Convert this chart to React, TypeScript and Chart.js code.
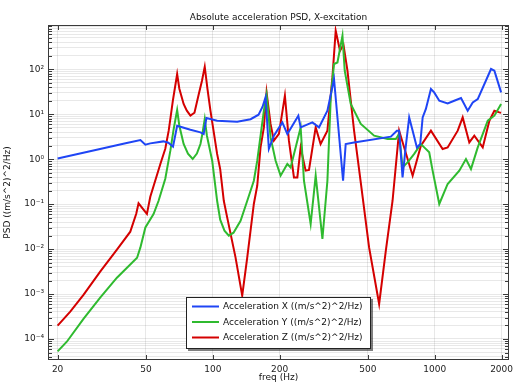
import React, { useEffect, useRef } from 'react';
import { Chart, registerables } from 'chart.js';

Chart.register(...registerables);

const FONT = '"DejaVu Sans", Verdana, sans-serif';

const titleText = 'Absolute acceleration PSD, X-excitation';
const xAxisTitle = 'freq (Hz)';
const yAxisTitle = 'PSD ((m/s^2)^2/Hz)';

const xTickValues = [20, 50, 100, 200, 500, 1000, 2000];
const yTickExponents = [-5, -4, -3, -2, -1, 0, 1, 2];

const seriesLabels = [
  'Acceleration X ((m/s^2)^2/Hz)',
  'Acceleration Y ((m/s^2)^2/Hz)',
  'Acceleration Z ((m/s^2)^2/Hz)',
];
const seriesColors = ['#1f45f5', '#2fba2f', '#d40000'];

const accXFreq = [20, 30, 40, 47.2, 49.7, 52.3, 59.9, 63.1, 66.2, 69.1, 71.5, 79.3, 88.0, 91.0, 93.6, 104.6, 128.8, 148, 160.8, 167.6, 172.9, 178.9, 188.5, 205.7, 216.7, 242.9, 248.8, 281, 300.9, 328.4, 351.7, 386.3, 397, 433, 634, 675, 691, 716, 741, 767, 795, 831, 860, 882, 912, 961, 994, 1048, 1143, 1224, 1313, 1407, 1483, 1562, 1793, 1856, 1990];
const accXPsd = [1.04, 1.63, 2.23, 2.67, 2.10, 2.25, 2.49, 2.33, 1.90, 5.56, 5.28, 4.53, 3.95, 3.64, 8.26, 7.19, 6.83, 7.76, 9.77, 14.7, 23.9, 1.69, 3.33, 6.59, 3.64, 9.29, 5.10, 6.59, 5.10, 12.0, 60.9, 0.332, 2.18, 2.36, 3.17, 4.31, 4.31, 0.394, 2.0, 8.51, 4.31, 1.83, 2.18, 8.51, 13.1, 36.5, 30.6, 20.0, 17.4, 20.0, 23.0, 12.0, 18.3, 21.8, 101.6, 93.1, 30.6];

const accYFreq = [20, 22.0, 26.2, 31.1, 37.0, 45.6, 47.2, 49.7, 54.1, 57.0, 61.1, 64.4, 66.7, 69.1, 70.7, 73.9, 77.3, 81.2, 84.8, 88.0, 89.8, 92.0, 94.1, 99.4, 104.6, 108, 112.9, 118.1, 124, 133.4, 143, 153.1, 158.6, 169.9, 174.7, 182.1, 191.9, 202.1, 216.7, 224.2, 248.8, 257.5, 276, 290.8, 311.8, 328.4, 340, 351.7, 364.4, 383.9, 393, 418.3, 464.3, 533.2, 612.8, 667.8, 691, 716, 754.4, 808, 866, 896.7, 944, 978, 1048, 1143, 1290, 1382, 1456, 1562, 1733, 1856, 1990];
const accYPsd = [5.3e-5, 8.7e-5, 2.83e-4, 8.3e-4, 2.31e-3, 6.44e-3, 0.0109, 0.0304, 0.0604, 0.119, 0.368, 1.55, 4.77, 12.4, 5.56, 2.18, 1.33, 1.01, 1.33, 2.18, 3.69, 7.84, 3.33, 0.926, 0.119, 0.045, 0.0257, 0.0199, 0.0232, 0.0428, 0.119, 0.332, 0.926, 12.0, 27.2, 3.05, 0.926, 0.43, 0.782, 0.657, 5.10, 0.332, 0.0362, 0.43, 0.0168, 0.332, 23.7, 131, 142, 559, 93.1, 16.9, 6.07, 3.33, 2.81, 2.81, 3.64, 0.657, 0.849, 1.31, 2.18, 1.83, 1.42, 0.555, 0.1008, 0.281, 0.555, 1.01, 0.605, 1.83, 7.19, 9.29, 16.9];

const accZFreq = [20, 22.8, 26.2, 31.1, 37.0, 42.5, 45.2, 46.3, 50.5, 52.3, 58.1, 61.1, 63.3, 64.4, 66.1, 69.1, 70.7, 73.9, 76.4, 79.3, 82.7, 86.5, 89.4, 92.0, 94.6, 97.6, 104.6, 108, 112.1, 116.1, 126.6, 135.7, 143, 153.1, 158.6, 164.1, 169.9, 174.7, 182.1, 188.5, 198.6, 211.3, 220.3, 232.1, 240.4, 248.8, 262, 271.3, 290.8, 306, 328.4, 345.9, 357.9, 374.3, 387.9, 404.3, 433, 464.3, 506, 561.6, 602, 645.5, 691, 795, 866, 961, 1085, 1143, 1269, 1336, 1431, 1507, 1645, 1762, 1856, 1955, 1990];
const accZPsd = [1.98e-4, 4.05e-4, 9.67e-4, 3.14e-3, 9.7e-3, 0.0244, 0.0613, 0.104, 0.0604, 0.1465, 0.794, 1.71, 4.31, 7.9, 20, 78.6, 37, 16.9, 12, 9.29, 10.8, 28.2, 55.8, 114, 37, 12.0, 1.31, 0.6, 0.119, 0.0507, 6.54e-3, 9.19e-4, 6.54e-3, 0.1008, 0.257, 1.83, 5.10, 30.6, 6.07, 2.58, 3.64, 25.9, 2.58, 0.394, 0.394, 1.83, 0.555, 0.575, 5.10, 2.18, 4.31, 66.0, 722, 259, 352, 93.1, 4.31, 0.30, 0.0109, 6.01e-4, 9.2e-3, 0.119, 4.31, 0.43, 2.0, 4.31, 1.69, 1.83, 4.31, 8.51, 2.36, 3.33, 1.83, 7.19, 12.0, 11.0, 10.8];

const X_MIN = 18.1;
const X_MAX = 2160;
const Y_MIN = 3.41e-5;
const Y_MAX = 967;

const SUP: Record<string, string> = {
  '-': '\u207B', '0': '\u2070', '1': '\u00B9', '2': '\u00B2', '3': '\u00B3',
  '4': '\u2074', '5': '\u2075', '6': '\u2076', '7': '\u2077', '8': '\u2078', '9': '\u2079',
};
const supText = (n: number) => String(n).split('').map((c) => SUP[c] || c).join('');

function buildYTicks() {
  const out: { value: number; major: boolean }[] = [];
  for (const e of yTickExponents) {
    for (let m = 1; m <= 9; m++) {
      const v = m * Math.pow(10, e);
      if (v >= Y_MIN && v <= Y_MAX) out.push({ value: v, major: m === 1 });
    }
  }
  return out;
}

const isDecade = (v: number) => {
  const l = Math.log10(v);
  return Math.abs(l - Math.round(l)) < 1e-6;
};

const toPoints = (fs: number[], vs: number[]) => fs.map((f, i) => ({ x: f, y: vs[i] }));

export default function App() {
  const ref = useRef<HTMLCanvasElement>(null);

  useEffect(() => {
    document.body.style.margin = '0';
    const canvas = ref.current;
    if (!canvas) return;

    const framePlugin = {
      id: 'frameAndLegend',
      afterDraw(chart: any) {
        const { ctx, chartArea: a, scales } = chart;
        const xs = scales.x;
        const ys = scales.y;
        ctx.save();
        ctx.strokeStyle = '#3a3a3a';
        ctx.lineWidth = 1;
        ctx.beginPath();
        for (const v of xTickValues) {
          const px = Math.round(xs.getPixelForValue(v)) + 0.5;
          ctx.moveTo(px, a.bottom);
          ctx.lineTo(px, a.bottom - 5);
          ctx.moveTo(px, a.top);
          ctx.lineTo(px, a.top + 5);
        }
        for (const t of ys.ticks) {
          const py = Math.round(ys.getPixelForValue(t.value)) + 0.5;
          const len = isDecade(t.value) ? 6 : 4;
          ctx.moveTo(a.left, py);
          ctx.lineTo(a.left + len, py);
          ctx.moveTo(a.right, py);
          ctx.lineTo(a.right - len, py);
        }
        ctx.stroke();
        ctx.strokeRect(Math.round(a.left) + 0.5, Math.round(a.top) + 0.5, Math.round(a.right - a.left) - 1, Math.round(a.bottom - a.top) - 1);

        // legend
        const ds = chart.data.datasets;
        ctx.font = `9px ${FONT}`;
        const tw = Math.max(...ds.map((d: any) => ctx.measureText(d.label).width));
        const w = Math.round(6 + 27 + 4 + tw + 9);
        const h = 52;
        const x0 = Math.round((a.left + a.right) / 2 - w / 2);
        const y0 = Math.round(a.bottom - 11 - h);
        ctx.fillStyle = 'rgba(0,0,0,0.5)';
        ctx.fillRect(x0 + 2, y0 + 2, w, h);
        ctx.fillStyle = '#ffffff';
        ctx.fillRect(x0, y0, w, h);
        ctx.strokeStyle = '#222';
        ctx.lineWidth = 1;
        ctx.strokeRect(x0 + 0.5, y0 + 0.5, w - 1, h - 1);
        ds.forEach((d: any, i: number) => {
          const cy = y0 + 9.5 + i * 15.5;
          ctx.strokeStyle = d.borderColor;
          ctx.lineWidth = 2;
          ctx.beginPath();
          ctx.moveTo(x0 + 6, cy);
          ctx.lineTo(x0 + 33, cy);
          ctx.stroke();
          ctx.fillStyle = '#111';
          ctx.textBaseline = 'middle';
          ctx.textAlign = 'left';
          ctx.fillText(d.label, x0 + 37, cy + 0.5);
        });
        ctx.restore();
      },
    };

    const mk = (i: number, fs: number[], vs: number[]) => ({
      label: seriesLabels[i],
      data: toPoints(fs, vs),
      borderColor: seriesColors[i],
      backgroundColor: seriesColors[i],
      borderWidth: 2,
      pointRadius: 0,
      tension: 0,
      fill: false,
    });

    const chart = new Chart(canvas, {
      type: 'line',
      data: {
        datasets: [mk(0, accXFreq, accXPsd), mk(1, accYFreq, accYPsd), mk(2, accZFreq, accZPsd)],
      },
      options: {
        animation: false,
        responsive: false,
        maintainAspectRatio: false,
        devicePixelRatio: 1,
        layout: { padding: { left: 0, right: 10, top: 0, bottom: 0 } },
        plugins: {
          legend: { display: false },
          tooltip: { enabled: false },
          title: {
            display: true,
            text: titleText,
            fullSize: false,
            color: '#111',
            font: { family: FONT, size: 9, weight: 'normal' },
            padding: { top: 12, bottom: 2.2 },
          },
        },
        scales: {
          x: {
            type: 'logarithmic',
            min: X_MIN,
            max: X_MAX,
            bounds: 'data',
            afterBuildTicks: (s: any) => {
              s.ticks = xTickValues.map((v) => ({ value: v }));
            },
            afterFit: (s: any) => {
              s.height = 30;
            },
            grid: { color: 'rgba(0,0,0,0.09)', drawTicks: false, lineWidth: 1 },
            border: { display: false },
            ticks: {
              autoSkip: false,
              maxRotation: 0,
              minRotation: 0,
              padding: 4,
              color: '#222',
              font: { family: FONT, size: 9 },
              callback: (v: any) => String(v),
            },
            title: {
              display: true,
              text: xAxisTitle,
              color: '#111',
              font: { family: FONT, size: 9 },
              padding: { top: 0, bottom: 7 },
            },
          },
          y: {
            type: 'logarithmic',
            min: Y_MIN,
            max: Y_MAX,
            bounds: 'data',
            afterBuildTicks: (s: any) => {
              s.ticks = buildYTicks();
            },
            afterFit: (s: any) => {
              s.width = 48;
            },
            grid: { color: 'rgba(0,0,0,0.09)', drawTicks: false, lineWidth: 1 },
            border: { display: false },
            ticks: {
              autoSkip: false,
              padding: 4,
              color: '#222',
              font: { family: FONT, size: 9 },
              callback: (v: any) => (isDecade(v) ? '10' + supText(Math.round(Math.log10(v))) : ''),
            },
            title: {
              display: true,
              text: yAxisTitle,
              color: '#111',
              font: { family: FONT, size: 9 },
              padding: { top: 2.6, bottom: 0 },
            },
          },
        },
      },
      plugins: [framePlugin],
    } as any);

    return () => chart.destroy();
  }, []);

  return (
    <div style={{ width: 519, height: 390, background: '#fff' }}>
      <canvas ref={ref} width={519} height={390} style={{ display: 'block' }} />
    </div>
  );
}
